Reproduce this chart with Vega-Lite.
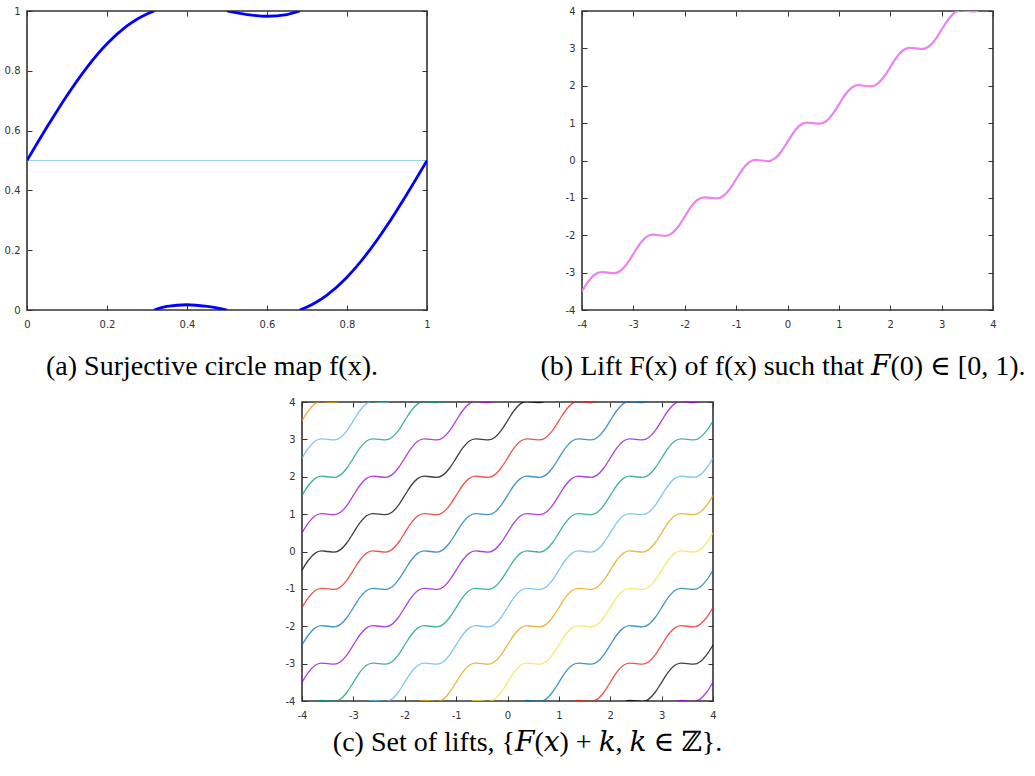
{
  "$schema": "https://vega.github.io/schema/vega-lite/v6.json",
  "background": "white",
  "padding": {"left": 3, "top": 5, "right": 3, "bottom": 3},
  "spacing": 14,
  "config": {
    "locale": {"number": {"decimal": ".", "thousands": ",", "grouping": [3], "currency": ["$", ""], "minus": "-"}},
    "view": {"stroke": "#333333", "strokeWidth": 1.6},
    "axis": {"grid": false, "domain": false, "ticks": true, "tickSize": -5, "tickColor": "#333333", "tickWidth": 1, "labelFont": "DejaVu Sans", "labelFontSize": 10, "labelColor": "#333333", "labelFlush": false, "labelOverlap": false, "labelBound": false, "zindex": 1},
    "axisX": {"labelPadding": 14},
    "axisY": {"labelPadding": 12},
    "title": {"font": "Liberation Serif, DejaVu Serif", "fontSize": 28, "fontWeight": "normal", "color": "#000000", "orient": "bottom", "anchor": "middle", "frame": "group"},
    "legend": {"disable": true}
  },
  "datasets": {
    "circle": [
      {"s": 1, "x": 0, "y": 0.5}, {"s": 1, "x": 0.05, "y": 0.6118}, {"s": 1, "x": 0.1, "y": 0.7176}, {"s": 1, "x": 0.15, "y": 0.8118}, {"s": 1, "x": 0.2, "y": 0.8902}, {"s": 1, "x": 0.25, "y": 0.95}, {"s": 1, "x": 0.275, "y": 0.9725}, {"s": 1, "x": 0.3, "y": 0.9902}, {"s": 1, "x": 0.318, "y": 1},
      {"s": 2, "x": 0.318, "y": 0}, {"s": 2, "x": 0.35, "y": 0.0118}, {"s": 2, "x": 0.4, "y": 0.0176}, {"s": 2, "x": 0.45, "y": 0.0118}, {"s": 2, "x": 0.5, "y": 0},
      {"s": 3, "x": 0.5, "y": 1}, {"s": 3, "x": 0.55, "y": 0.9882}, {"s": 3, "x": 0.6, "y": 0.9824}, {"s": 3, "x": 0.65, "y": 0.9882}, {"s": 3, "x": 0.682, "y": 1},
      {"s": 4, "x": 0.682, "y": 0}, {"s": 4, "x": 0.7, "y": 0.0098}, {"s": 4, "x": 0.725, "y": 0.0275}, {"s": 4, "x": 0.75, "y": 0.05}, {"s": 4, "x": 0.8, "y": 0.1098}, {"s": 4, "x": 0.85, "y": 0.1882}, {"s": 4, "x": 0.9, "y": 0.2824}, {"s": 4, "x": 0.95, "y": 0.3882}, {"s": 4, "x": 1, "y": 0.5}
    ],
    "lift": [
      {"x":-4,"n1":-4.5,"p0":-3.5,"p1":-2.5,"p2":-1.5,"p3":-0.5,"p4":0.5,"p5":1.5,"p6":2.5,"p7":3.5},
      {"x":-3.875,"n1":-4.234,"p0":-3.234,"p1":-2.234,"p2":-1.234,"p3":-0.234,"p4":0.766,"p5":1.766,"p6":2.766,"p7":3.766},
      {"x":-3.75,"n1":-4.05,"p0":-3.05,"p1":-2.05,"p2":-1.05,"p3":-0.05,"p4":0.95,"p5":1.95,"p6":2.95,"p7":3.95},
      {"x":-3.625,"n1":-3.984,"p0":-2.984,"p1":-1.984,"p2":-0.984,"p3":0.016,"p4":1.016,"p5":2.016,"p6":3.016,"p7":4.016},
      {"x":-3.5,"n1":-4,"p0":-3,"p1":-2,"p2":-1,"p3":0,"p4":1,"p5":2,"p6":3,"p7":4},
      {"x":-3.375,"n1":-4.016,"p0":-3.016,"p1":-2.016,"p2":-1.016,"p3":-0.016,"p4":0.984,"p5":1.984,"p6":2.984,"p7":3.984},
      {"x":-3.25,"n1":-3.95,"p0":-2.95,"p1":-1.95,"p2":-0.95,"p3":0.05,"p4":1.05,"p5":2.05,"p6":3.05,"p7":4.05},
      {"x":-3.125,"n1":-3.766,"p0":-2.766,"p1":-1.766,"p2":-0.766,"p3":0.234,"p4":1.234,"p5":2.234,"p6":3.234,"p7":4.234},
      {"x":-3,"n2":-4.5,"n1":-3.5,"p0":-2.5,"p1":-1.5,"p2":-0.5,"p3":0.5,"p4":1.5,"p5":2.5,"p6":3.5,"p7":4.5},
      {"x":-2.875,"n2":-4.234,"n1":-3.234,"p0":-2.234,"p1":-1.234,"p2":-0.234,"p3":0.766,"p4":1.766,"p5":2.766,"p6":3.766},
      {"x":-2.75,"n2":-4.05,"n1":-3.05,"p0":-2.05,"p1":-1.05,"p2":-0.05,"p3":0.95,"p4":1.95,"p5":2.95,"p6":3.95},
      {"x":-2.625,"n2":-3.984,"n1":-2.984,"p0":-1.984,"p1":-0.984,"p2":0.016,"p3":1.016,"p4":2.016,"p5":3.016,"p6":4.016},
      {"x":-2.5,"n2":-4,"n1":-3,"p0":-2,"p1":-1,"p2":0,"p3":1,"p4":2,"p5":3,"p6":4},
      {"x":-2.375,"n2":-4.016,"n1":-3.016,"p0":-2.016,"p1":-1.016,"p2":-0.016,"p3":0.984,"p4":1.984,"p5":2.984,"p6":3.984},
      {"x":-2.25,"n2":-3.95,"n1":-2.95,"p0":-1.95,"p1":-0.95,"p2":0.05,"p3":1.05,"p4":2.05,"p5":3.05,"p6":4.05},
      {"x":-2.125,"n2":-3.766,"n1":-2.766,"p0":-1.766,"p1":-0.766,"p2":0.234,"p3":1.234,"p4":2.234,"p5":3.234,"p6":4.234},
      {"x":-2,"n3":-4.5,"n2":-3.5,"n1":-2.5,"p0":-1.5,"p1":-0.5,"p2":0.5,"p3":1.5,"p4":2.5,"p5":3.5,"p6":4.5},
      {"x":-1.875,"n3":-4.234,"n2":-3.234,"n1":-2.234,"p0":-1.234,"p1":-0.234,"p2":0.766,"p3":1.766,"p4":2.766,"p5":3.766},
      {"x":-1.75,"n3":-4.05,"n2":-3.05,"n1":-2.05,"p0":-1.05,"p1":-0.05,"p2":0.95,"p3":1.95,"p4":2.95,"p5":3.95},
      {"x":-1.625,"n3":-3.984,"n2":-2.984,"n1":-1.984,"p0":-0.984,"p1":0.016,"p2":1.016,"p3":2.016,"p4":3.016,"p5":4.016},
      {"x":-1.5,"n3":-4,"n2":-3,"n1":-2,"p0":-1,"p1":0,"p2":1,"p3":2,"p4":3,"p5":4},
      {"x":-1.375,"n3":-4.016,"n2":-3.016,"n1":-2.016,"p0":-1.016,"p1":-0.016,"p2":0.984,"p3":1.984,"p4":2.984,"p5":3.984},
      {"x":-1.25,"n3":-3.95,"n2":-2.95,"n1":-1.95,"p0":-0.95,"p1":0.05,"p2":1.05,"p3":2.05,"p4":3.05,"p5":4.05},
      {"x":-1.125,"n3":-3.766,"n2":-2.766,"n1":-1.766,"p0":-0.766,"p1":0.234,"p2":1.234,"p3":2.234,"p4":3.234,"p5":4.234},
      {"x":-1,"n4":-4.5,"n3":-3.5,"n2":-2.5,"n1":-1.5,"p0":-0.5,"p1":0.5,"p2":1.5,"p3":2.5,"p4":3.5,"p5":4.5},
      {"x":-0.875,"n4":-4.234,"n3":-3.234,"n2":-2.234,"n1":-1.234,"p0":-0.234,"p1":0.766,"p2":1.766,"p3":2.766,"p4":3.766},
      {"x":-0.75,"n4":-4.05,"n3":-3.05,"n2":-2.05,"n1":-1.05,"p0":-0.05,"p1":0.95,"p2":1.95,"p3":2.95,"p4":3.95},
      {"x":-0.625,"n4":-3.984,"n3":-2.984,"n2":-1.984,"n1":-0.984,"p0":0.016,"p1":1.016,"p2":2.016,"p3":3.016,"p4":4.016},
      {"x":-0.5,"n4":-4,"n3":-3,"n2":-2,"n1":-1,"p0":0,"p1":1,"p2":2,"p3":3,"p4":4},
      {"x":-0.375,"n4":-4.016,"n3":-3.016,"n2":-2.016,"n1":-1.016,"p0":-0.016,"p1":0.984,"p2":1.984,"p3":2.984,"p4":3.984},
      {"x":-0.25,"n4":-3.95,"n3":-2.95,"n2":-1.95,"n1":-0.95,"p0":0.05,"p1":1.05,"p2":2.05,"p3":3.05,"p4":4.05},
      {"x":-0.125,"n4":-3.766,"n3":-2.766,"n2":-1.766,"n1":-0.766,"p0":0.234,"p1":1.234,"p2":2.234,"p3":3.234,"p4":4.234},
      {"x":0,"n5":-4.5,"n4":-3.5,"n3":-2.5,"n2":-1.5,"n1":-0.5,"p0":0.5,"p1":1.5,"p2":2.5,"p3":3.5,"p4":4.5},
      {"x":0.125,"n5":-4.234,"n4":-3.234,"n3":-2.234,"n2":-1.234,"n1":-0.234,"p0":0.766,"p1":1.766,"p2":2.766,"p3":3.766},
      {"x":0.25,"n5":-4.05,"n4":-3.05,"n3":-2.05,"n2":-1.05,"n1":-0.05,"p0":0.95,"p1":1.95,"p2":2.95,"p3":3.95},
      {"x":0.375,"n5":-3.984,"n4":-2.984,"n3":-1.984,"n2":-0.984,"n1":0.016,"p0":1.016,"p1":2.016,"p2":3.016,"p3":4.016},
      {"x":0.5,"n5":-4,"n4":-3,"n3":-2,"n2":-1,"n1":0,"p0":1,"p1":2,"p2":3,"p3":4},
      {"x":0.625,"n5":-4.016,"n4":-3.016,"n3":-2.016,"n2":-1.016,"n1":-0.016,"p0":0.984,"p1":1.984,"p2":2.984,"p3":3.984},
      {"x":0.75,"n5":-3.95,"n4":-2.95,"n3":-1.95,"n2":-0.95,"n1":0.05,"p0":1.05,"p1":2.05,"p2":3.05,"p3":4.05},
      {"x":0.875,"n5":-3.766,"n4":-2.766,"n3":-1.766,"n2":-0.766,"n1":0.234,"p0":1.234,"p1":2.234,"p2":3.234,"p3":4.234},
      {"x":1,"n6":-4.5,"n5":-3.5,"n4":-2.5,"n3":-1.5,"n2":-0.5,"n1":0.5,"p0":1.5,"p1":2.5,"p2":3.5,"p3":4.5},
      {"x":1.125,"n6":-4.234,"n5":-3.234,"n4":-2.234,"n3":-1.234,"n2":-0.234,"n1":0.766,"p0":1.766,"p1":2.766,"p2":3.766},
      {"x":1.25,"n6":-4.05,"n5":-3.05,"n4":-2.05,"n3":-1.05,"n2":-0.05,"n1":0.95,"p0":1.95,"p1":2.95,"p2":3.95},
      {"x":1.375,"n6":-3.984,"n5":-2.984,"n4":-1.984,"n3":-0.984,"n2":0.016,"n1":1.016,"p0":2.016,"p1":3.016,"p2":4.016},
      {"x":1.5,"n6":-4,"n5":-3,"n4":-2,"n3":-1,"n2":0,"n1":1,"p0":2,"p1":3,"p2":4},
      {"x":1.625,"n6":-4.016,"n5":-3.016,"n4":-2.016,"n3":-1.016,"n2":-0.016,"n1":0.984,"p0":1.984,"p1":2.984,"p2":3.984},
      {"x":1.75,"n6":-3.95,"n5":-2.95,"n4":-1.95,"n3":-0.95,"n2":0.05,"n1":1.05,"p0":2.05,"p1":3.05,"p2":4.05},
      {"x":1.875,"n6":-3.766,"n5":-2.766,"n4":-1.766,"n3":-0.766,"n2":0.234,"n1":1.234,"p0":2.234,"p1":3.234,"p2":4.234},
      {"x":2,"n7":-4.5,"n6":-3.5,"n5":-2.5,"n4":-1.5,"n3":-0.5,"n2":0.5,"n1":1.5,"p0":2.5,"p1":3.5,"p2":4.5},
      {"x":2.125,"n7":-4.234,"n6":-3.234,"n5":-2.234,"n4":-1.234,"n3":-0.234,"n2":0.766,"n1":1.766,"p0":2.766,"p1":3.766},
      {"x":2.25,"n7":-4.05,"n6":-3.05,"n5":-2.05,"n4":-1.05,"n3":-0.05,"n2":0.95,"n1":1.95,"p0":2.95,"p1":3.95},
      {"x":2.375,"n7":-3.984,"n6":-2.984,"n5":-1.984,"n4":-0.984,"n3":0.016,"n2":1.016,"n1":2.016,"p0":3.016,"p1":4.016},
      {"x":2.5,"n7":-4,"n6":-3,"n5":-2,"n4":-1,"n3":0,"n2":1,"n1":2,"p0":3,"p1":4},
      {"x":2.625,"n7":-4.016,"n6":-3.016,"n5":-2.016,"n4":-1.016,"n3":-0.016,"n2":0.984,"n1":1.984,"p0":2.984,"p1":3.984},
      {"x":2.75,"n7":-3.95,"n6":-2.95,"n5":-1.95,"n4":-0.95,"n3":0.05,"n2":1.05,"n1":2.05,"p0":3.05,"p1":4.05},
      {"x":2.875,"n7":-3.766,"n6":-2.766,"n5":-1.766,"n4":-0.766,"n3":0.234,"n2":1.234,"n1":2.234,"p0":3.234,"p1":4.234},
      {"x":3,"n8":-4.5,"n7":-3.5,"n6":-2.5,"n5":-1.5,"n4":-0.5,"n3":0.5,"n2":1.5,"n1":2.5,"p0":3.5,"p1":4.5},
      {"x":3.125,"n8":-4.234,"n7":-3.234,"n6":-2.234,"n5":-1.234,"n4":-0.234,"n3":0.766,"n2":1.766,"n1":2.766,"p0":3.766},
      {"x":3.25,"n8":-4.05,"n7":-3.05,"n6":-2.05,"n5":-1.05,"n4":-0.05,"n3":0.95,"n2":1.95,"n1":2.95,"p0":3.95},
      {"x":3.375,"n8":-3.984,"n7":-2.984,"n6":-1.984,"n5":-0.984,"n4":0.016,"n3":1.016,"n2":2.016,"n1":3.016,"p0":4.016},
      {"x":3.5,"n8":-4,"n7":-3,"n6":-2,"n5":-1,"n4":0,"n3":1,"n2":2,"n1":3,"p0":4},
      {"x":3.625,"n8":-4.016,"n7":-3.016,"n6":-2.016,"n5":-1.016,"n4":-0.016,"n3":0.984,"n2":1.984,"n1":2.984,"p0":3.984},
      {"x":3.75,"n8":-3.95,"n7":-2.95,"n6":-1.95,"n5":-0.95,"n4":0.05,"n3":1.05,"n2":2.05,"n1":3.05,"p0":4.05},
      {"x":3.875,"n8":-3.766,"n7":-2.766,"n6":-1.766,"n5":-0.766,"n4":0.234,"n3":1.234,"n2":2.234,"n1":3.234,"p0":4.234},
      {"x":4,"n8":-3.5,"n7":-2.5,"n6":-1.5,"n5":-0.5,"n4":0.5,"n3":1.5,"n2":2.5,"n1":3.5,"p0":4.5}
    ]
  },
  "vconcat": [
    {
      "spacing": 108,
      "hconcat": [
        {
          "width": 400,
          "height": 299,
          "title": {"text": "(a) Surjective circle map f(x).", "offset": 24, "dx": -15},
          "layer": [
            {
              "data": {"values": [{"x": 0, "y": 0.5}, {"x": 1, "y": 0.5}]},
              "mark": {"type": "line", "color": "#9ccff0", "strokeWidth": 1.2},
              "encoding": {
                "x": {"field": "x", "type": "quantitative", "title": null, "scale": {"domain": [0, 1], "nice": false}, "axis": {"orient": "top", "labels": false, "values": [0, 0.2, 0.4, 0.6, 0.8, 1]}},
                "y": {"field": "y", "type": "quantitative", "title": null, "scale": {"domain": [0, 1], "nice": false}, "axis": {"orient": "right", "labels": false, "values": [0, 0.2, 0.4, 0.6, 0.8, 1]}}
              }
            },
            {
              "data": {"name": "circle"},
              "mark": {"type": "line", "color": "#0000ff", "strokeWidth": 2.8, "interpolate": "monotone", "clip": true},
              "encoding": {
                "x": {"field": "x", "type": "quantitative", "title": null, "scale": {"domain": [0, 1], "nice": false}, "axis": {"orient": "bottom", "values": [0, 0.2, 0.4, 0.6, 0.8, 1], "format": "~g"}},
                "y": {"field": "y", "type": "quantitative", "title": null, "scale": {"domain": [0, 1], "nice": false}, "axis": {"orient": "left", "values": [0, 0.2, 0.4, 0.6, 0.8, 1], "format": "~g"}},
                "detail": {"field": "s", "type": "nominal"}
              }
            }
          ],
          "resolve": {"axis": {"x": "independent", "y": "independent"}}
        },
        {
          "width": 411,
          "height": 299,
          "title": {"text": "(b) Lift F(x) of f(x) such that 𝐹(0) ∈ [0, 1).", "offset": 24, "dx": -4.5},
          "data": {"name": "lift"},
          "layer": [
            {
              "mark": {"type": "line", "strokeOpacity": 0, "clip": true},
              "encoding": {
                "x": {"field": "x", "type": "quantitative", "title": null, "scale": {"domain": [-4, 4], "nice": false}, "axis": {"orient": "top", "labels": false, "values": [-4, -3, -2, -1, 0, 1, 2, 3, 4]}},
                "y": {"field": "p0", "type": "quantitative", "title": null, "scale": {"domain": [-4, 4], "nice": false}, "axis": {"orient": "right", "labels": false, "values": [-4, -3, -2, -1, 0, 1, 2, 3, 4]}}
              }
            },
            {
              "mark": {"type": "line", "color": "#ee82ee", "strokeWidth": 2.2, "interpolate": "monotone", "clip": true},
              "encoding": {
                "x": {"field": "x", "type": "quantitative", "title": null, "scale": {"domain": [-4, 4], "nice": false}, "axis": {"orient": "bottom", "values": [-4, -3, -2, -1, 0, 1, 2, 3, 4], "format": "d"}},
                "y": {"field": "p0", "type": "quantitative", "title": null, "scale": {"domain": [-4, 4], "nice": false}, "axis": {"orient": "left", "values": [-4, -3, -2, -1, 0, 1, 2, 3, 4], "format": "d"}}
              }
            }
          ],
          "resolve": {"axis": {"x": "independent", "y": "independent"}}
        }
      ]
    },
    {
      "spacing": 0,
      "hconcat": [
        {
          "width": 257,
          "height": 1,
          "data": {"values": []},
          "mark": {"type": "point", "opacity": 0},
          "view": {"stroke": null, "fill": "white"}
        },
        {
          "width": 411,
          "height": 299,
          "title": {"text": "(c) Set of lifts, {𝐹(𝑥) + 𝑘, 𝑘 ∈ ℤ}.", "offset": 9, "dx": 20},
          "data": {"name": "lift"},
          "transform": [{"fold": ["n8", "n7", "n6", "n5", "n4", "n3", "n2", "n1", "p0", "p1", "p2", "p3", "p4", "p5", "p6", "p7"], "as": ["k", "y"]}],
          "layer": [
            {
              "mark": {"type": "line", "strokeOpacity": 0, "clip": true},
              "encoding": {
                "x": {"field": "x", "type": "quantitative", "title": null, "scale": {"domain": [-4, 4], "nice": false}, "axis": {"orient": "top", "labels": false, "values": [-4, -3, -2, -1, 0, 1, 2, 3, 4]}},
                "y": {"field": "y", "type": "quantitative", "title": null, "scale": {"domain": [-4, 4], "nice": false}, "axis": {"orient": "right", "labels": false, "values": [-4, -3, -2, -1, 0, 1, 2, 3, 4]}},
                "detail": {"field": "k", "type": "nominal"}
              }
            },
            {
              "mark": {"type": "line", "strokeWidth": 1.3, "strokeOpacity": 0.75, "interpolate": "monotone", "clip": true},
              "encoding": {
                "x": {"field": "x", "type": "quantitative", "title": null, "scale": {"domain": [-4, 4], "nice": false}, "axis": {"orient": "bottom", "values": [-4, -3, -2, -1, 0, 1, 2, 3, 4], "format": "d"}},
                "y": {"field": "y", "type": "quantitative", "title": null, "scale": {"domain": [-4, 4], "nice": false}, "axis": {"orient": "left", "values": [-4, -3, -2, -1, 0, 1, 2, 3, 4], "format": "d"}},
                "color": {"field": "k", "type": "nominal", "legend": null, "scale": {"domain": ["n8", "n7", "n6", "n5", "n4", "n3", "n2", "n1", "p0", "p1", "p2", "p3", "p4", "p5", "p6", "p7"], "range": ["#9400d3", "#000000", "#e51e10", "#0072b2", "#f0e442", "#e69f00", "#56b4e9", "#009e73", "#9400d3", "#0072b2", "#e51e10", "#000000", "#9400d3", "#009e73", "#56b4e9", "#e69f00"]}}
              }
            }
          ],
          "resolve": {"axis": {"x": "independent", "y": "independent"}}
        }
      ]
    }
  ]
}
